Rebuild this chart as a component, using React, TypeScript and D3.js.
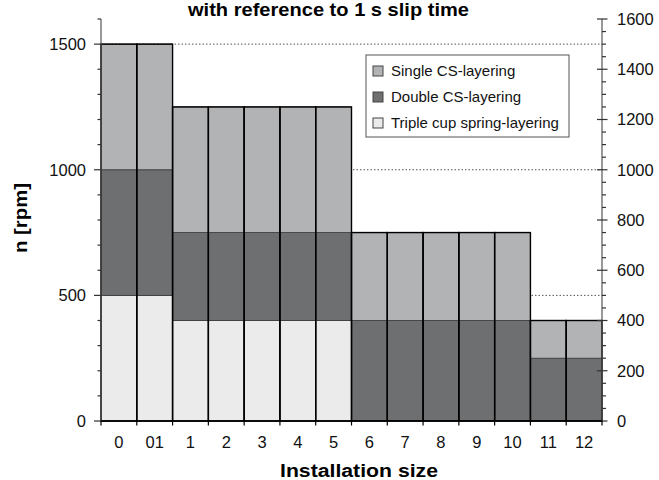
import React from "react";
import * as d3 from "d3";

const categories = ["0", "01", "1", "2", "3", "4", "5", "6", "7", "8", "9", "10", "11", "12"];
// maximum speed (rpm) reached by each layering, cumulative stack tops
const tripleMax = [500, 500, 400, 400, 400, 400, 400, 0, 0, 0, 0, 0, 0, 0];
const doubleMax = [1000, 1000, 750, 750, 750, 750, 750, 400, 400, 400, 400, 400, 250, 250];
const singleMax = [1500, 1500, 1250, 1250, 1250, 1250, 1250, 750, 750, 750, 750, 750, 400, 400];

const leftTicks = [0, 500, 1000, 1500];
const rightTicks = [0, 200, 400, 600, 800, 1000, 1200, 1400, 1600];
const gridValues = [500, 1000, 1500];

const legendItems = [
  { label: "Single CS-layering", color: "#b2b3b5" },
  { label: "Double CS-layering", color: "#6e6f71" },
  { label: "Triple cup spring-layering", color: "#ebebeb" },
];

const FONT = "'Liberation Sans', Arial, Helvetica, sans-serif";

export default function App() {
  const W = 659, H = 480;
  const x0 = 101, x1 = 602, yTop = 19, yBot = 421;
  const x = d3.scaleBand<string>().domain(categories).range([x0, x1]).padding(0);
  const y = d3.scaleLinear().domain([0, 1600]).range([yBot, yTop]);
  const bw = x.bandwidth();

  const layers = [
    { low: categories.map(() => 0), high: tripleMax, color: legendItems[2].color },
    { low: tripleMax, high: doubleMax, color: legendItems[1].color },
    { low: doubleMax, high: singleMax, color: legendItems[0].color },
  ];

  const leftMinor = d3.range(0, 1601, 100).filter((v) => v % 500 !== 0);
  const rightMinor = d3.range(0, 1601, 50).filter((v) => v % 200 !== 0);

  return (
    <svg width={W} height={H} style={{ position: "absolute", left: 0, top: 0, background: "#fff" }} fontFamily={FONT}>
      <rect x={0} y={0} width={W} height={H} fill="#fff" />
      {/* dotted grid */}
      {gridValues.map((v) => (
        <line key={"g" + v} x1={x0} x2={x1} y1={y(v)} y2={y(v)} stroke="#555" strokeWidth={1} strokeDasharray="1.5,2" />
      ))}
      {/* bars */}
      {layers.map((L, li) =>
        categories.map((c, i) => {
          const h = L.high[i] - L.low[i];
          if (h <= 0) return null;
          return (
            <rect
              key={"s" + li + "-" + i}
              x={x(c)!}
              y={y(L.high[i])}
              width={bw}
              height={y(L.low[i]) - y(L.high[i])}
              fill={L.color}
              stroke="#3a3a3a"
              strokeWidth={0.8}
            />
          );
        })
      )}
      {categories.map((c, i) => (
        <rect key={"o" + i} x={x(c)!} y={y(singleMax[i])} width={bw} height={yBot - y(singleMax[i])} fill="none" stroke="#000" strokeWidth={1.4} />
      ))}
      {/* left axis */}
      <line x1={x0} x2={x0} y1={yTop} y2={yBot} stroke="#555" strokeWidth={1.2} />
      {leftTicks.map((v) => (
        <g key={"lt" + v}>
          <line x1={x0 - 7} x2={x0} y1={y(v)} y2={y(v)} stroke="#333" strokeWidth={1.2} />
          <text x={86} y={y(v)} dy="0.36em" textAnchor="end" fontSize={16.5} fill="#111">{v}</text>
        </g>
      ))}
      {leftMinor.map((v) => (
        <line key={"lm" + v} x1={x0 - 3.5} x2={x0} y1={y(v)} y2={y(v)} stroke="#333" strokeWidth={1.2} />
      ))}
      {/* right axis */}
      <line x1={x1} x2={x1} y1={yTop} y2={yBot} stroke="#555" strokeWidth={1.2} />
      {rightTicks.map((v) => (
        <g key={"rt" + v}>
          <line x1={x1 - 5} x2={x1 + 5.5} y1={y(v)} y2={y(v)} stroke="#333" strokeWidth={1.2} />
          <text x={617} y={y(v)} dy="0.36em" textAnchor="start" fontSize={16.5} fill="#111">{v}</text>
        </g>
      ))}
      {rightMinor.map((v) => (
        <line key={"rm" + v} x1={x1} x2={x1 + 4} y1={y(v)} y2={y(v)} stroke="#333" strokeWidth={1.2} />
      ))}
      {/* bottom axis */}
      <line x1={x0} x2={x1} y1={yBot} y2={yBot} stroke="#000" strokeWidth={1.4} />
      {categories.map((c) => (
        <line key={"bt" + c} x1={x(c)!} x2={x(c)!} y1={yBot} y2={yBot + 4.5} stroke="#000" strokeWidth={1.2} />
      ))}
      <line x1={x1} x2={x1} y1={yBot} y2={yBot + 4.5} stroke="#000" strokeWidth={1.2} />
      {categories.map((c) => (
        <text key={"bl" + c} x={x(c)! + bw / 2} y={448} textAnchor="middle" fontSize={16.5} fill="#111">{c}</text>
      ))}
      {/* titles */}
      <text x={328.5} y={16} textAnchor="middle" fontSize={19} fontWeight="bold" fill="#000" textLength={281} lengthAdjust="spacingAndGlyphs">with reference to 1 s slip time</text>
      <text x={359} y={477} textAnchor="middle" fontSize={18} fontWeight="bold" fill="#000" textLength={158} lengthAdjust="spacingAndGlyphs">Installation size</text>
      <text transform="translate(27,218) rotate(-90)" textAnchor="middle" fontSize={18} fontWeight="bold" fill="#000" textLength={70} lengthAdjust="spacingAndGlyphs">n [rpm]</text>
      {/* legend */}
      <rect x={366} y={55} width={203} height={82} fill="#fff" stroke="#555" strokeWidth={1} />
      {legendItems.map((it, i) => (
        <g key={"lg" + i} transform={`translate(373, ${71 + i * 26})`}>
          <rect x={0} y={-5} width={10} height={10} fill={it.color} stroke="#444" strokeWidth={1} />
          <text x={18} y={0} dy="0.36em" fontSize={15} fill="#111">{it.label}</text>
        </g>
      ))}
    </svg>
  );
}
